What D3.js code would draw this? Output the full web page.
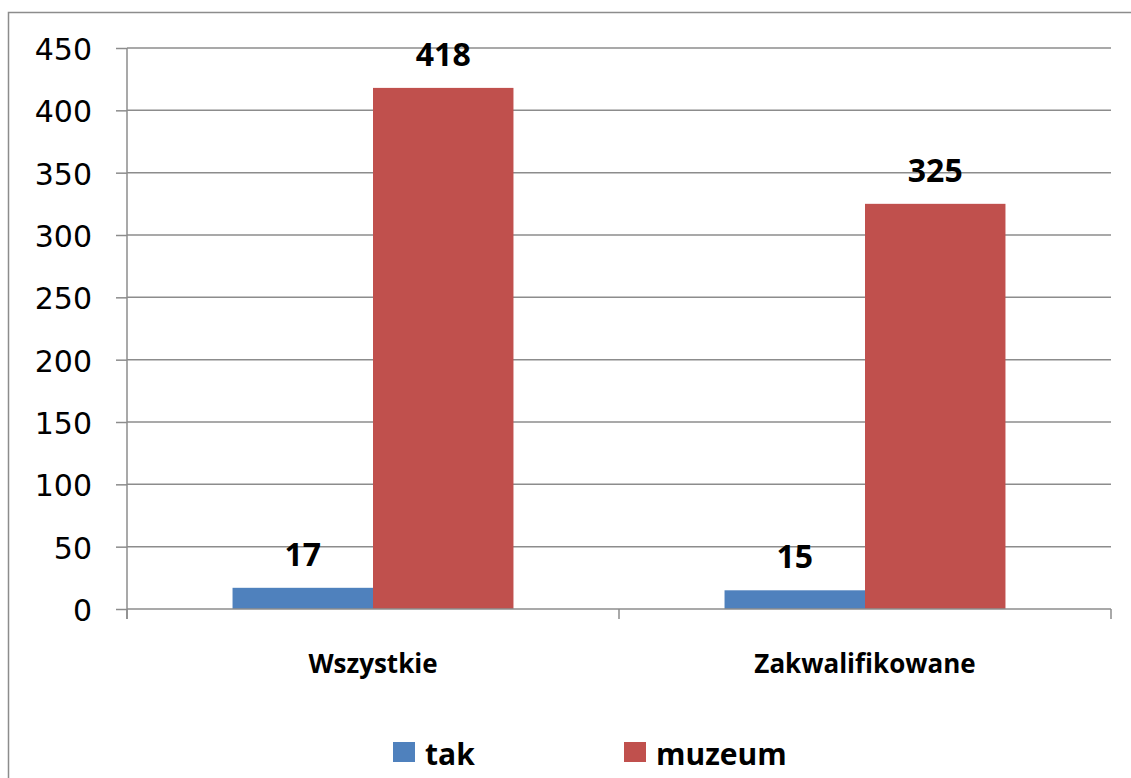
<!DOCTYPE html>
<html>
<head>
<meta charset="utf-8">
<script src="https://cdn.jsdelivr.net/npm/d3@7"></script>
<style>
  body { margin: 0; background: #fff; }
  text { font-family: "Open Sans", sans-serif; }
</style>
</head>
<body>
<div id="chart"></div>
<script>
// Data
var categories = ["Wszystkie", "Zakwalifikowane"];
var seriesNames = ["tak", "muzeum"];
var takValues = [17, 15];
var muzeumValues = [418, 325];
var yTicks = [0, 50, 100, 150, 200, 250, 300, 350, 400, 450];

var colors = ["#4f81bd", "#c0504d"];

var svgWidth = 1131;
var svgHeight = 778;

var margin = { top: 48, right: 20, bottom: 169, left: 127 };
var width = 1111 - margin.left;
var height = 609 - margin.top;

var svg = d3.select("#chart").append("svg")
  .attr("width", svgWidth)
  .attr("height", svgHeight);

// outer chart border (runs off the right and bottom edge)
svg.append("rect")
  .attr("x", 8.5).attr("y", 12.5)
  .attr("width", 1200).attr("height", 900)
  .attr("fill", "none")
  .attr("stroke", "#8c8c8c")
  .attr("stroke-width", 1.5);

var g = svg.append("g")
  .attr("transform", `translate(${margin.left}, ${margin.top})`);

var x0 = d3.scaleBand()
  .domain(categories)
  .range([0, width])
  .paddingInner(0)
  .paddingOuter(0);

var x1 = d3.scaleBand()
  .domain(seriesNames)
  .range([x0.bandwidth() * 0.2145, x0.bandwidth() * 0.7855]);

var y = d3.scaleLinear()
  .domain([0, 450])
  .range([height, 0]);

// gridlines
g.append("g")
  .selectAll("line")
  .data(yTicks.slice(1))
  .enter().append("line")
  .attr("x1", 0).attr("x2", width)
  .attr("y1", d => y(d)).attr("y2", d => y(d))
  .attr("stroke", "#8c8c8c")
  .attr("stroke-width", 1.5);

var data = categories.map((c, i) => ({
  category: c,
  values: [
    { name: "tak", value: takValues[i] },
    { name: "muzeum", value: muzeumValues[i] }
  ]
}));

var groups = g.append("g")
  .selectAll("g")
  .data(data)
  .enter().append("g")
  .attr("transform", d => `translate(${x0(d.category)}, 0)`);

groups.selectAll("rect")
  .data(d => d.values)
  .enter().append("rect")
  .attr("x", d => x1(d.name))
  .attr("width", x1.bandwidth())
  .attr("y", d => y(d.value))
  .attr("height", d => height - y(d.value))
  .attr("fill", (d, i) => colors[i]);

groups.selectAll("text")
  .data(d => d.values)
  .enter().append("text")
  .attr("x", d => x1(d.name) + x1.bandwidth() / 2)
  .attr("y", d => y(d.value) - 22)
  .attr("text-anchor", "middle")
  .style("font-size", "32px")
  .style("font-weight", "bold")
  .text(d => d.value);

// y axis
var leftAxis = d3.axisLeft(y)
  .tickValues(yTicks)
  .tickSize(11)
  .tickPadding(24);

var yAxis = g.append("g").call(leftAxis);
yAxis.select(".domain").remove();
yAxis.append("line")
  .attr("x1", 0).attr("x2", 0)
  .attr("y1", 0).attr("y2", height + 10)
  .attr("stroke", "#8c8c8c")
  .attr("stroke-width", 1.5);
yAxis.selectAll(".tick line").attr("stroke", "#8c8c8c").attr("stroke-width", 1.5);
yAxis.selectAll(".tick text")
  .attr("fill", "#000")
  .attr("dy", "0.38em")
  .style("font-size", "30px")
  .style("font-family", "'DejaVu Sans', sans-serif");

// x axis
var xAxis = g.append("g")
  .attr("transform", `translate(0, ${height})`);
xAxis.append("line")
  .attr("x1", 0).attr("x2", width)
  .attr("stroke", "#8c8c8c")
  .attr("stroke-width", 1.5);
xAxis.selectAll("line.tick")
  .data([0, 1, 2])
  .enter().append("line")
  .attr("class", "tick")
  .attr("x1", d => d * x0.bandwidth()).attr("x2", d => d * x0.bandwidth())
  .attr("y1", 0).attr("y2", 10)
  .attr("stroke", "#8c8c8c")
  .attr("stroke-width", 1.5);
xAxis.selectAll("text")
  .data(categories)
  .enter().append("text")
  .attr("x", d => x0(d) + x0.bandwidth() / 2)
  .attr("y", 64)
  .attr("text-anchor", "middle")
  .style("font-size", "26px")
  .style("font-weight", "bold")
  .text(d => d);

// legend
var legendX = [393, 624];
var legend = svg.append("g")
  .selectAll("g")
  .data(seriesNames)
  .enter().append("g")
  .attr("transform", (d, i) => `translate(${legendX[i]}, 742)`);
legend.append("rect")
  .attr("width", 22).attr("height", 20)
  .attr("fill", (d, i) => colors[i]);
legend.append("text")
  .attr("x", 32).attr("y", 23)
  .style("font-size", "30px")
  .style("font-weight", "bold")
  .text(d => d);
</script>
</body>
</html>
